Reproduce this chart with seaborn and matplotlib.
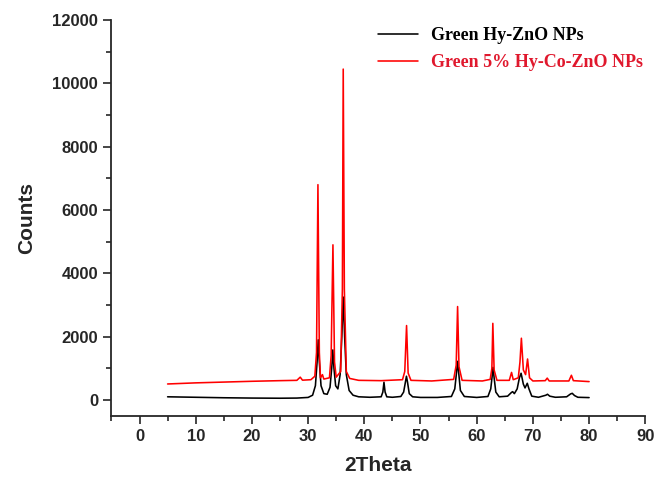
import matplotlib
matplotlib.use("Agg")
import matplotlib.pyplot as plt
from matplotlib.ticker import MultipleLocator
import numpy as np
import pandas as pd
import seaborn as sns

# ---- data (key points of each XRD pattern) ----
black_2theta = [5.0, 10, 15, 20, 25, 28, 30, 30.8, 31.3, 31.6, 31.8, 32.0, 32.3, 32.8,
                33.4, 33.9, 34.2, 34.4, 34.6, 34.9, 35.3, 35.7, 36.0, 36.25, 36.5, 36.8,
                37.3, 38, 39, 41, 43.0, 43.3, 43.5, 43.7, 44.0, 45, 46.5, 47.0, 47.3,
                47.5, 47.7, 48.0, 48.6, 50, 53, 55.5, 56.1, 56.4, 56.6, 56.8, 57.1, 57.8,
                60, 62, 62.5, 62.75, 62.9, 63.1, 63.4, 64, 65.5, 66.2, 66.4, 66.7, 67.2,
                67.6, 67.9, 68.3, 68.6, 69.0, 69.3, 69.8, 71, 72.3, 72.6, 73, 74, 76,
                76.7, 77.0, 77.4, 78, 80]
black_counts = [100, 85, 70, 60, 55, 60, 80, 150, 450, 1200, 1900, 1200, 450, 200,
                180, 400, 1000, 1580, 1000, 450, 350, 800, 2000, 3250, 2000, 800,
                300, 150, 100, 85, 100, 250, 560, 250, 100, 85, 110, 250, 550,
                750, 550, 200, 100, 80, 80, 110, 350, 850, 1220, 850, 300, 110,
                80, 110, 350, 750, 1030, 700, 250, 100, 120, 240, 262, 200, 350,
                700, 843, 500, 380, 527, 350, 120, 85, 150, 180, 120, 85, 100,
                190, 210, 140, 85, 75]

red_2theta = [5, 10, 15, 20, 25, 28, 28.6, 29, 30.5, 31.2, 31.5, 31.75, 32.0, 32.2,
              32.55, 32.8, 33.8, 34.1, 34.42, 34.7, 35.0, 35.8, 36.1, 36.25, 36.45,
              36.8, 37.4, 39, 43, 46.8, 47.2, 47.52, 47.8, 48.3, 52, 55.9, 56.35, 56.6,
              56.85, 57.4, 61, 62.4, 62.7, 62.87, 63.1, 63.6, 65.8, 66.2, 66.5, 67.4,
              67.7, 67.95, 68.3, 68.7, 69.05, 69.4, 70, 72.2, 72.55, 72.9, 76.4, 76.85,
              77.2, 80]
red_counts = [505, 540, 565, 590, 610, 620, 720, 625, 640, 750, 1500, 6800, 1500, 700,
              800, 660, 700, 1400, 4900, 1200, 720, 900, 3500, 10450, 3500,
              900, 680, 620, 610, 640, 900, 2350, 850, 620, 600, 650, 1100, 2950,
              1050, 620, 600, 650, 1000, 2420, 950, 620, 620, 870, 640, 700,
              1200, 1950, 950, 800, 1294, 700, 600, 610, 690, 600, 600, 780,
              610, 580]

series_names = ["Green Hy-ZnO NPs", "Green 5% Hy-Co-ZnO NPs"]
x_ticks = [0, 10, 20, 30, 40, 50, 60, 70, 80, 90]
y_ticks = [0, 2000, 4000, 6000, 8000, 10000, 12000]

df_black = pd.DataFrame({"2Theta": black_2theta, "Counts": black_counts})
df_red = pd.DataFrame({"2Theta": red_2theta, "Counts": red_counts})

sns.set_style("ticks")
plt.rcParams["font.family"] = ["Liberation Sans", "DejaVu Sans"]

fig = plt.figure(figsize=(6.54, 4.79), dpi=100)
ax = fig.add_axes([111.4 / 654, 1 - 415.8 / 479, (645.3 - 111.4) / 654, (415.8 - 20) / 479])

sns.lineplot(data=df_black, x="2Theta", y="Counts", ax=ax, color="black",
             linewidth=1.15, sort=False, estimator=None, label=series_names[0])
sns.lineplot(data=df_red, x="2Theta", y="Counts", ax=ax, color="red",
             linewidth=1.15, sort=False, estimator=None, label=series_names[1])

ax.set_xlim(-5, 90)
ax.set_ylim(-500, 12000)
ax.set_xticks(x_ticks)
ax.set_yticks(y_ticks)
ax.xaxis.set_minor_locator(MultipleLocator(5))
ax.yaxis.set_minor_locator(MultipleLocator(1000))
ax.tick_params(which="major", direction="out", length=6, width=1.2, labelsize=12)
ax.tick_params(which="minor", direction="out", length=3.5, width=1.2)
for lbl in ax.get_xticklabels() + ax.get_yticklabels():
    lbl.set_fontweight("bold")
for s in ["left", "bottom"]:
    ax.spines[s].set_linewidth(1.3)
sns.despine(ax=ax)

ax.set_xlabel("2Theta", fontsize=15, fontweight="bold", labelpad=9)
ax.set_ylabel("Counts", fontsize=15, fontweight="bold", labelpad=12)

leg = ax.legend(loc="upper left", bbox_to_anchor=(378 / 654, 1 - 27 / 479),
                bbox_transform=fig.transFigure, frameon=False, borderpad=0,
                borderaxespad=0, handlelength=2.2, handletextpad=0.75,
                labelspacing=0.55,
                prop={"family": ["Liberation Serif"], "weight": "bold", "size": 13})
for txt, col in zip(leg.get_texts(), ["black", "#e0182d"]):
    txt.set_color(col)
for h in leg.get_lines():
    h.set_linewidth(1.15)

fig.savefig("out.png", dpi=100)
